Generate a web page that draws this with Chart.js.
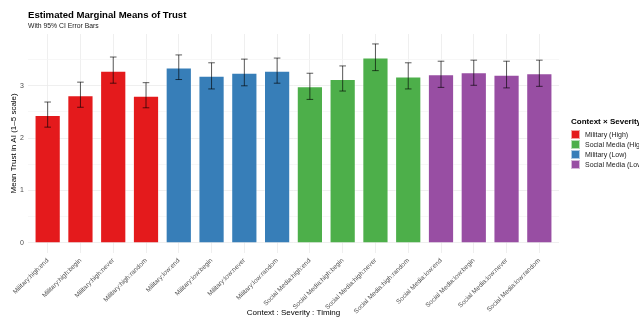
<!DOCTYPE html>
<html><head><meta charset="utf-8">
<script src="https://cdn.jsdelivr.net/npm/chart.js@4.4.1/dist/chart.umd.min.js"></script>
<style>
html,body{margin:0;padding:0;background:#fff;width:639px;height:320px;overflow:hidden;font-family:"Liberation Sans",Arial,sans-serif;}
#wrap{position:relative;width:639px;height:320px;}
canvas{position:absolute;left:0;top:0;}
.t{position:absolute;white-space:nowrap;}
#title{left:28px;top:9px;font-size:9.6px;font-weight:bold;color:#000;}
#sub{left:28px;top:22px;font-size:6.8px;color:#1a1a1a;}
#legend{position:absolute;left:571px;top:117px;}
#legend .lt{font-size:8px;font-weight:bold;color:#000;white-space:nowrap;margin-bottom:3px;}
#legend .row{display:flex;align-items:center;height:10px;white-space:nowrap;}
#legend .sw{width:9px;height:9px;margin-right:5px;box-sizing:border-box;border:0.5px solid rgba(255,255,255,0.6);}
#legend .lab{font-size:7px;color:#1a1a1a;}
</style></head>
<body><div id="wrap">
<canvas id="c" width="639" height="320"></canvas>
<div class="t" id="title">Estimated Marginal Means of Trust</div>
<div class="t" id="sub">With 95% CI Error Bars</div>
<div id="legend"></div>
</div>
<script>
const categories = ["Military:high:end","Military:high:begin","Military:high:never","Military:high:random",
 "Military:low:end","Military:low:begin","Military:low:never","Military:low:random",
 "Social Media:high:end","Social Media:high:begin","Social Media:high:never","Social Media:high:random",
 "Social Media:low:end","Social Media:low:begin","Social Media:low:never","Social Media:low:random"];
const groupOf = ["Military (High)","Military (High)","Military (High)","Military (High)",
 "Military (Low)","Military (Low)","Military (Low)","Military (Low)",
 "Social Media (High)","Social Media (High)","Social Media (High)","Social Media (High)",
 "Social Media (Low)","Social Media (Low)","Social Media (Low)","Social Media (Low)"];
const means = [2.44,2.82,3.29,2.81, 3.35,3.19,3.25,3.29, 2.99,3.13,3.54,3.18, 3.22,3.26,3.21,3.24];
const lower = [2.21,2.59,3.05,2.58, 3.12,2.94,3.00,3.05, 2.74,2.90,3.29,2.94, 2.97,3.01,2.96,2.99];
const upper = [2.69,3.07,3.55,3.06, 3.59,3.44,3.51,3.53, 3.24,3.38,3.80,3.44, 3.47,3.49,3.47,3.49];
const legendGroups = ["Military (High)","Social Media (High)","Military (Low)","Social Media (Low)"];
const groupColors = {"Military (High)":"#E41A1C","Social Media (High)":"#4DAF4A","Military (Low)":"#377EB8","Social Media (Low)":"#984EA3"};
const yTicks = [0,0.5,1,1.5,2,2.5,3,3.5];

const lg = document.getElementById('legend');
lg.innerHTML = '<div class="lt">Context \u00d7 Severity</div>' + legendGroups.map(g =>
  '<div class="row"><div class="sw" style="background:'+groupColors[g]+'"></div><span class="lab">'+g+'</span></div>').join('');

const errorBars = {
  id:'errorBars',
  afterDatasetsDraw(chart){
    const {ctx, scales:{x,y}} = chart;
    ctx.save();
    ctx.strokeStyle = 'rgba(0,0,0,0.8)';
    ctx.lineWidth = 0.8;
    categories.forEach((c,i)=>{
      const px = x.getPixelForValue(i);
      const yl = y.getPixelForValue(lower[i]), yh = y.getPixelForValue(upper[i]);
      const hw = 3.3;
      ctx.beginPath();
      ctx.moveTo(px,yl); ctx.lineTo(px,yh);
      ctx.moveTo(px-hw,yl); ctx.lineTo(px+hw,yl);
      ctx.moveTo(px-hw,yh); ctx.lineTo(px+hw,yh);
      ctx.stroke();
    });
    ctx.restore();
  }
};

new Chart(document.getElementById('c'), {
  type:'bar',
  data:{ datasets:[{
    data: means.map((v,i)=>({x:i,y:v})),
    backgroundColor: groupOf.map(g=>groupColors[g]),
    borderColor: 'rgba(255,255,255,0.45)',
    borderWidth: 1,
    barPercentage: 0.8,
    categoryPercentage: 1
  }]},
  options:{
    responsive:false, animation:false, devicePixelRatio:1,
    layout:{autoPadding:false, padding:{left:9,right:80,top:34,bottom:2}},
    plugins:{legend:{display:false},tooltip:{enabled:false}},
    scales:{
      x:{ type:'linear', min:-0.6, max:15.6, offset:false,
        afterBuildTicks(s){ s.ticks = categories.map((_,i)=>({value:i})); },
        afterFit(s){ s.paddingLeft = 0; s.paddingRight = 0; s.height -= 13; },
        ticks:{ autoSkip:false, minRotation:45, maxRotation:45, padding:4,
          font:{family:'Liberation Sans', size:6.5}, color:'#4d4d4d',
          callback:(v)=>categories[v] },
        grid:{ color:'#ebebeb', lineWidth:0.8, drawTicks:false, offset:false },
        border:{display:false},
        title:{display:true, text:'Context : Severity : Timing', color:'#000',
          font:{family:'Liberation Sans', size:8}, padding:{top:2,bottom:0}}
      },
      y:{ min:-0.19, max:3.99,
        afterBuildTicks(s){ s.ticks = yTicks.map(v=>({value:v})); },
        afterFit(s){ s.paddingTop = 0; s.paddingBottom = 0; s.width = 19; },
        ticks:{ padding:4, font:{family:'Liberation Sans', size:7}, color:'#4d4d4d',
          callback:(v)=> Number.isInteger(v) ? String(v) : '' },
        grid:{ color:(c)=> Number.isInteger(c.tick && c.tick.value) ? '#ebebeb' : '#f5f5f5', lineWidth:0.8, drawTicks:false },
        border:{display:false},
        title:{display:true, text:'Mean Trust in AI (1\u20135 scale)', color:'#000',
          font:{family:'Liberation Sans', size:8}, padding:{top:0,bottom:2}}
      }
    }
  },
  plugins:[errorBars]
});
</script></body></html>
